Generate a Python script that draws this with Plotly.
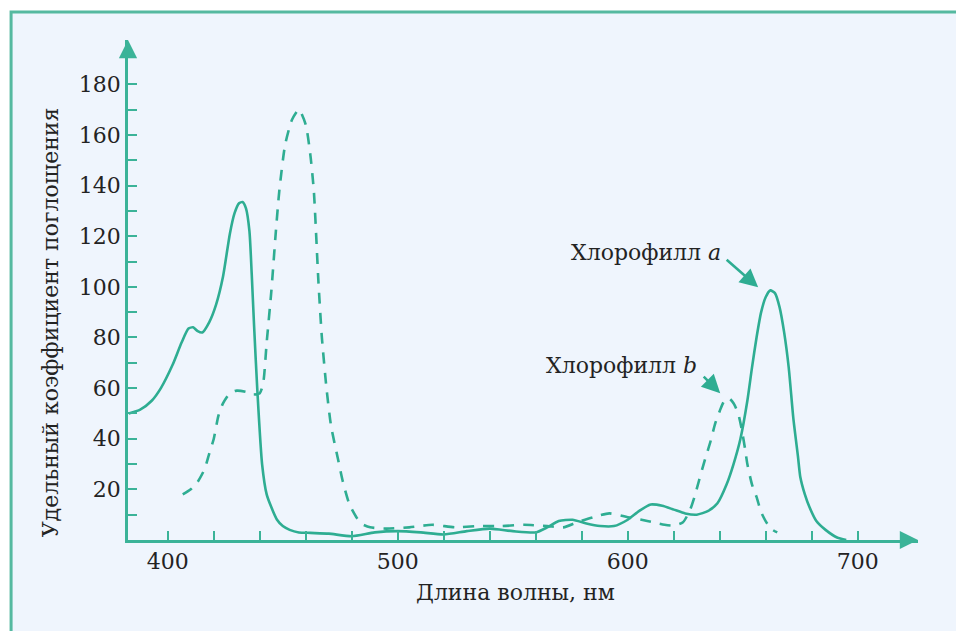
import plotly.graph_objects as go

# ---- data ----
wl_a = [383, 388, 393, 397, 402, 406, 409, 411, 413, 415, 418, 421, 424, 427, 429, 431, 432.5,
        434, 435.5, 436.5, 437.5, 439, 441, 443, 445, 447.5, 450, 453, 457, 462, 470, 480, 490,
        500, 510, 520, 530, 540, 550, 560, 565, 570, 576, 582, 588, 594, 600, 605, 610, 615,
        620, 625, 630, 635, 639, 643, 646, 649, 652, 654, 656, 658, 660, 662, 664, 666, 668,
        670, 672, 674, 675, 677, 679, 682, 686, 691, 695]
abs_a = [50, 51.5, 55, 60, 69, 78, 83.5, 84, 82.5, 82, 86, 93, 104, 121, 129, 133, 133.5,
         131, 122, 105, 85, 58, 30, 18, 13, 8, 5.5, 4, 3, 2.8, 2.5, 1.5, 3,
         3.5, 3, 2.2, 3.5, 4.5, 3.5, 3, 5, 7.5, 8, 6.5, 5.5, 5.5, 8, 11.5, 14, 13.5,
         12, 10.5, 10, 11.5, 14.5, 22, 30, 40, 55, 68, 80, 90, 96, 98.6, 97.5, 92, 82,
         68, 48, 33, 25, 18, 13, 7.5, 4, 1, 0]

wl_b = [406.5, 410, 413, 416, 418, 420, 422, 424, 427, 430, 434, 437, 440, 441.5, 443, 445,
        447, 448.5, 451, 454, 457, 460, 462, 463.5, 465.5, 467, 469, 471, 474, 476, 479, 482,
        484, 488, 495, 505, 515, 525, 535, 545, 555, 565, 572, 578, 585, 592, 600, 606, 611,
        616, 620, 624, 627, 629, 631, 633, 636, 638, 640, 642, 644, 646, 648, 649.5, 651, 652,
        654, 656, 658, 660.6, 663, 665]
abs_b = [18, 20, 23, 28, 34, 40, 49, 54, 58, 59, 58.5, 57.5, 58, 62, 78, 98,
         122, 138, 156, 166, 170, 164, 152, 138, 102, 80, 60, 45, 32, 23.5, 14, 9,
         6.5, 5, 4.5, 5, 6, 5, 5.5, 5.5, 6, 5.5, 5, 7, 9, 10.5, 9, 8, 7,
         6, 5.7, 7, 11.7, 17, 23.5, 30, 39, 46, 51, 55, 56, 54, 50, 44, 36, 30,
         22, 17, 11, 6.5, 4, 3]

x_major = [400, 500, 600, 700]
x_minor = [420, 440, 460, 480, 520, 540, 560, 580, 620, 640, 660, 680]
y_major = [20, 40, 60, 80, 100, 120, 140, 160, 180]
y_minor = [10, 30, 50, 70, 90, 110, 130, 150, 170]
x_range = [382.7, 726.2]
y_range = [0, 197.5]

label_a = "Хлорофилл <i>a</i>"
label_b = "Хлорофилл <i>b</i>"
x_title = "Длина волны, нм"
y_title = "Удельный коэффициент поглощения"

# ---- style ----
TEAL = "#2EAD92"
AXIS = "#3BB398"
FRAME = "#55B9A0"
BG = "#EFF5FD"
TXT = "#232323"
FONT = "DejaVu Serif"

fig = go.Figure()
fig.add_trace(go.Scatter(x=wl_a, y=abs_a, mode="lines",
                         line=dict(color=TEAL, width=2.6, shape="spline", smoothing=0.6),
                         showlegend=False, hoverinfo="skip"))
fig.add_trace(go.Scatter(x=wl_b, y=abs_b, mode="lines",
                         line=dict(color=TEAL, width=2.6, dash="11px,9px", shape="spline", smoothing=0.6),
                         showlegend=False, hoverinfo="skip"))

axis_common = dict(showgrid=False, zeroline=False, showline=True, linecolor=AXIS, linewidth=2.6,
                   ticks="inside", ticklen=9, tickwidth=2, tickcolor=AXIS,
                   tickfont=dict(family=FONT, size=22, color=TXT))

fig.update_xaxes(range=x_range, tickmode="array", tickvals=x_major,
                 ticktext=[str(v) for v in x_major],
                 minor=dict(tickmode="array", tickvals=x_minor, ticks="inside", ticklen=9,
                            tickwidth=2, tickcolor=AXIS),
                 **axis_common)
fig.update_yaxes(range=y_range, tickmode="array", tickvals=y_major,
                 ticktext=[str(v) for v in y_major],
                 minor=dict(tickmode="array", tickvals=y_minor, ticks="inside", ticklen=9,
                            tickwidth=2, tickcolor=AXIS),
                 **axis_common)

annotations = [
    # axis arrowheads
    dict(x=x_range[1], y=0, xref="x", yref="y", ax=-18, ay=0, text="", showarrow=True,
         arrowhead=2, arrowsize=1.4, arrowwidth=2.6, arrowcolor=AXIS),
    dict(x=x_range[0], y=y_range[1], xref="x", yref="y", ax=0, ay=18, text="", showarrow=True,
         arrowhead=2, arrowsize=1.4, arrowwidth=2.6, arrowcolor=AXIS),
    # labels
    dict(x=607.8, y=113.6, xref="x", yref="y", xanchor="center", yanchor="middle",
         text=label_a, showarrow=False, font=dict(family=FONT, size=22, color=TXT)),
    dict(x=656.7, y=99.8, xref="x", yref="y", ax=-33, ay=-29, text="", showarrow=True,
         arrowhead=2, arrowsize=1.4, arrowwidth=2.6, arrowcolor=TEAL),
    dict(x=597.2, y=69, xref="x", yref="y", xanchor="center", yanchor="middle",
         text=label_b, showarrow=False, font=dict(family=FONT, size=22, color=TXT)),
    dict(x=640.2, y=58, xref="x", yref="y", ax=-18, ay=-18, text="", showarrow=True,
         arrowhead=2, arrowsize=1.4, arrowwidth=2.6, arrowcolor=TEAL),
    # axis titles
    dict(x=0.49, y=-0.105, xref="paper", yref="paper", xanchor="center", yanchor="middle",
         text=x_title, showarrow=False, font=dict(family=FONT, size=22, color=TXT)),
    dict(x=-0.0987, y=0.4355, xref="paper", yref="paper", xanchor="center", yanchor="middle",
         text=y_title, showarrow=False, textangle=-90,
         font=dict(family=FONT, size=22, color=TXT)),
]

fig.update_layout(
    width=956, height=631, autosize=False,
    margin=dict(l=128, r=38, t=40, b=91, pad=0),
    paper_bgcolor="white", plot_bgcolor="rgba(0,0,0,0)",
    shapes=[dict(type="rect", xref="paper", yref="paper", x0=-0.148, x1=1.056, y0=-0.2, y1=1.056,
                 line=dict(color=FRAME, width=3), fillcolor=BG, layer="below")],
    annotations=annotations,
)

fig.write_html("out.html",
               config={"displayModeBar": False},
               post_script="document.body.style.margin='0';document.body.style.overflow='hidden';")
